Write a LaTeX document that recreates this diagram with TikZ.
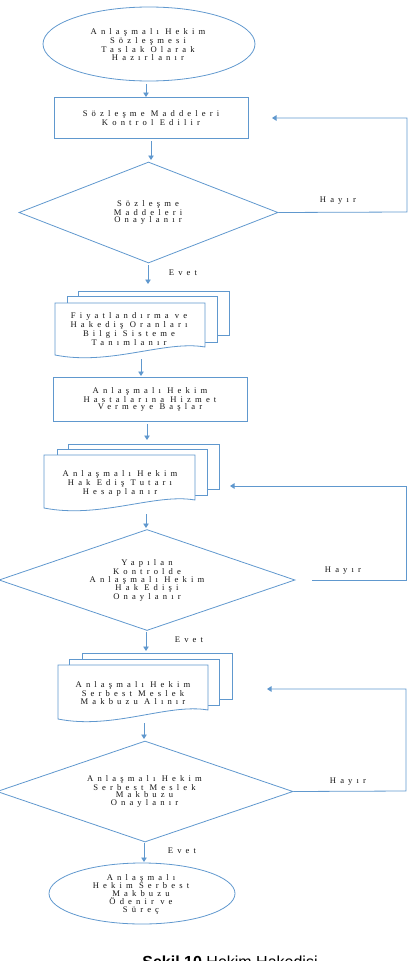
\documentclass[tikz,border=0pt]{standalone}
\usepackage{fontspec}
\usetikzlibrary{shapes.geometric,arrows.meta}
\newfontfamily\dfont[LetterSpace=48]{Liberation Serif}
\newfontfamily\capfont{Liberation Sans}
\definecolor{lblue}{RGB}{96,152,206}
\definecolor{tcol}{RGB}{20,20,20}
\tikzset{
  ln/.style={draw=lblue, line width=0.8pt},
  arr/.style={ln, -{Triangle[width=5.5pt,length=4.5pt]}},
  txt/.style={font=\dfont\fontsize{8.6pt}{7.7pt}\selectfont, text=tcol, align=center, inner sep=0pt},
  ell/.style={ln, ellipse, inner sep=0pt},
  dia/.style={ln, diamond, inner sep=0pt},
  box/.style={ln, rectangle, inner sep=0pt},
  page/.style={ln, fill=white, line join=miter},
}
\begin{document}
\begin{tikzpicture}[x=1pt,y=-1pt]
\useasboundingbox (0,0) rectangle (415,961);
\clip (0,0) rectangle (415,961);

% start ellipse
\node[ell, minimum width=212pt, minimum height=74pt] (e1) at (149,44) {};
\node[txt] (e1t) at (148,44.5) {Anlaşmalı Hekim\\Sözleşmesi\\Taslak Olarak\\Hazırlanır};

% rect 1
\node[box, minimum width=194pt, minimum height=41pt] (r1) at (151,117.5) {};
\node[txt] (r1t) at (151,118) {Sözleşme Maddeleri\\Kontrol Edilir};

% diamond 1
\node[dia, minimum width=259pt, minimum height=101pt] (d1) at (148.5,212.5) {};
\node[txt] (d1t) at (148,212.5) {Sözleşme\\Maddeleri\\Onaylanır};

% multidoc 1
\draw[page] (78,296) -- (78,291) -- (229,291) -- (229,335) -- (217,335);
\draw[page] (67,303) -- (67,296) -- (217,296) -- (217,342) -- (205,342);
\draw[page] (55,303) -- (205,303) -- (205,347) .. controls (165,340) and (110,366) .. (55,355) -- cycle;
\node[txt] (m1t) at (129,329) {Fiyatlandırma ve\\Hakediş Oranları\\Bilgi Sisteme\\Tanımlanır};

% rect 2
\node[box, minimum width=194pt, minimum height=44pt] (r2) at (150,399) {};
\node[txt] (r2t) at (150,399.5) {Anlaşmalı Hekim\\Hastalarına Hizmet\\Vermeye Başlar};

% multidoc 2
\draw[page] (68,449) -- (68,444) -- (219,444) -- (219,489) -- (207,489);
\draw[page] (57,455) -- (57,449) -- (207,449) -- (207,495) -- (195,495);
\draw[page] (44,455) -- (195,455) -- (195,500) .. controls (155,493) and (100,519) .. (44,508) -- cycle;
\node[txt] (m2t) at (120,483.5) {Anlaşmalı Hekim\\Hak Ediş Tutarı\\Hesaplanır};

% diamond 2
\node[dia, minimum width=296pt, minimum height=101pt] (d2) at (147,580) {};
\node[txt] (d2t) at (147,580.5) {Yapılan\\Kontrolde\\Anlaşmalı Hekim\\Hak Edişi\\Onaylanır};

% multidoc 3
\draw[page] (82,659) -- (82,653) -- (232,653) -- (232,699) -- (219,699);
\draw[page] (69,665) -- (69,659) -- (219,659) -- (219,705) -- (208,705);
\draw[page] (58,665) -- (208,665) -- (208,710) .. controls (168,703) and (113,730) .. (58,719) -- cycle;
\node[txt] (m3t) at (133,693) {Anlaşmalı Hekim\\Serbest Meslek\\Makbuzu Alınır};

% diamond 3
\node[dia, minimum width=296pt, minimum height=101pt] (d3) at (145,791.5) {};
\node[txt] (d3t) at (144.5,791.5) {Anlaşmalı Hekim\\Serbest Meslek\\Makbuzu\\Onaylanır};

% end ellipse
\node[ell, minimum width=186pt, minimum height=61pt] (e2) at (142,893.5) {};
\node[txt] (e2t) at (141,894) {Anlaşmalı\\Hekim Serbest\\Makbuzu\\Ödenir ve\\Süreç};

% connection points
\coordinate (a1s) at (146,84);   \coordinate (a1e) at (146,97);
\coordinate (a2s) at (151,141);  \coordinate (a2e) at (151,160);
\coordinate (a3s) at (148,265);  \coordinate (a3e) at (148,284);
\coordinate (a4s) at (141,359);  \coordinate (a4e) at (141,376);
\coordinate (a5s) at (147,424);  \coordinate (a5e) at (147,440);
\coordinate (a6s) at (146,514);  \coordinate (a6e) at (146,528);
\coordinate (a7s) at (146,632);  \coordinate (a7e) at (146,651);
\coordinate (a8s) at (144,723);  \coordinate (a8e) at (144,739);
\coordinate (a9s) at (144,843);  \coordinate (a9e) at (144,862);

% main arrows
\foreach \i in {1,...,9} { \draw[arr] (a\i s) -- (a\i e); }

% labels
\node[txt] (ev1) at (183,273) {Evet};
\node[txt] (ev2) at (189,640) {Evet};
\node[txt] (ev3) at (182,851) {Evet};
\node[txt] (h1l) at (338,201) {Hayır};
\node[txt] (h2l) at (343,571) {Hayır};
\node[txt] (h3l) at (348,782) {Hayır};

% loops
\coordinate (c1) at (407,212);
\coordinate (t1) at (272,118);
\draw[arr] (d1.east) -- (c1) |- (t1);
\coordinate (s2) at (312,580);
\coordinate (c2) at (406,580);
\coordinate (t2) at (230,486);
\draw[arr] (s2) -- (c2) |- (t2);
\coordinate (c3) at (406,791);
\coordinate (t3) at (267,689);
\draw[arr] (d3.east) -- (c3) |- (t3);

% caption (cut off at page bottom, as in the reference)
\node[anchor=base, inner sep=0pt, font=\capfont\fontsize{16pt}{18pt}\selectfont, text=black] (cap) at (230,967) {\textbf{Şekil 10} Hekim Hakedişi};
\end{tikzpicture}
\end{document}
